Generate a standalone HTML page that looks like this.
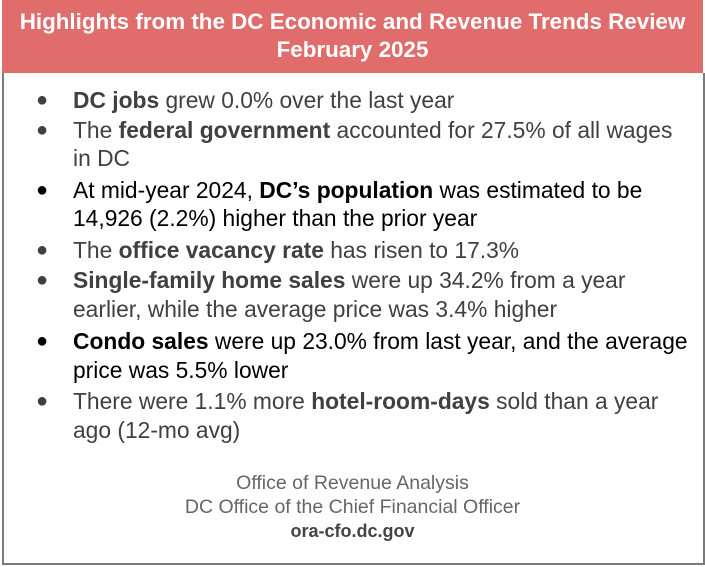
<!DOCTYPE html>
<html><head><meta charset="utf-8"><style>
body{margin:0;width:705px;height:567px;background:#fff;font-family:"Liberation Sans",sans-serif;position:relative;overflow:hidden}
.hdr{position:absolute;left:2px;top:0;width:701px;height:73px;background:#e06c6c;color:#fff;font-weight:bold;font-size:22.4px;text-align:center}
.hdr div{position:absolute;left:0;width:100%;line-height:26px}
.box{position:absolute;left:2px;top:73px;width:699px;height:490px;border:2px solid #7a7a7a;border-top:none}
.l{position:absolute;left:73px;font-size:22.8px;white-space:nowrap;color:#404040;line-height:24px}
.k{color:#000}
.b{position:absolute;left:36px;font-size:20px;line-height:24px}
.f{position:absolute;left:0;width:705px;text-align:center;font-size:19.5px;color:#666;line-height:22px}
</style></head><body>
<div class="hdr">
<div style="top:9px">Highlights from the DC Economic and Revenue Trends Review</div>
<div style="top:37px">February 2025</div>
</div>
<div class="box"></div>

<span class="b" style="top:88px;color:#404040">●</span>
<div class="l" style="top:88px"><b>DC jobs</b> grew 0.0% over the last year</div>

<span class="b" style="top:118px;color:#404040">●</span>
<div class="l" style="top:118px">The <b>federal government</b> accounted for 27.5% of all wages</div>
<div class="l" style="top:146px">in DC</div>

<span class="b k" style="top:178px">●</span>
<div class="l k" style="top:178px">At mid-year 2024, <b>DC’s population</b> was estimated to be</div>
<div class="l k" style="top:206px">14,926 (2.2%) higher than the prior year</div>

<span class="b" style="top:238px;color:#404040">●</span>
<div class="l" style="top:238px">The <b>office vacancy rate</b> has risen to 17.3%</div>

<span class="b" style="top:268px;color:#404040">●</span>
<div class="l" style="top:268px"><b>Single-family home sales</b> were up 34.2% from a year</div>
<div class="l" style="top:297px">earlier, while the average price was 3.4% higher</div>

<span class="b k" style="top:329px">●</span>
<div class="l k" style="top:329px"><b>Condo sales</b> were up 23.0% from last year, and the average</div>
<div class="l k" style="top:358px">price was 5.5% lower</div>

<span class="b" style="top:389px;color:#404040">●</span>
<div class="l" style="top:389px">There were 1.1% more <b>hotel-room-days</b> sold than a year</div>
<div class="l" style="top:418px">ago (12-mo avg)</div>

<div class="f" style="top:472px">Office of Revenue Analysis</div>
<div class="f" style="top:496px">DC Office of the Chief Financial Officer</div>
<div class="f" style="top:520px;font-weight:bold;color:#444;font-size:18px">ora-cfo.dc.gov</div>
</body></html>
